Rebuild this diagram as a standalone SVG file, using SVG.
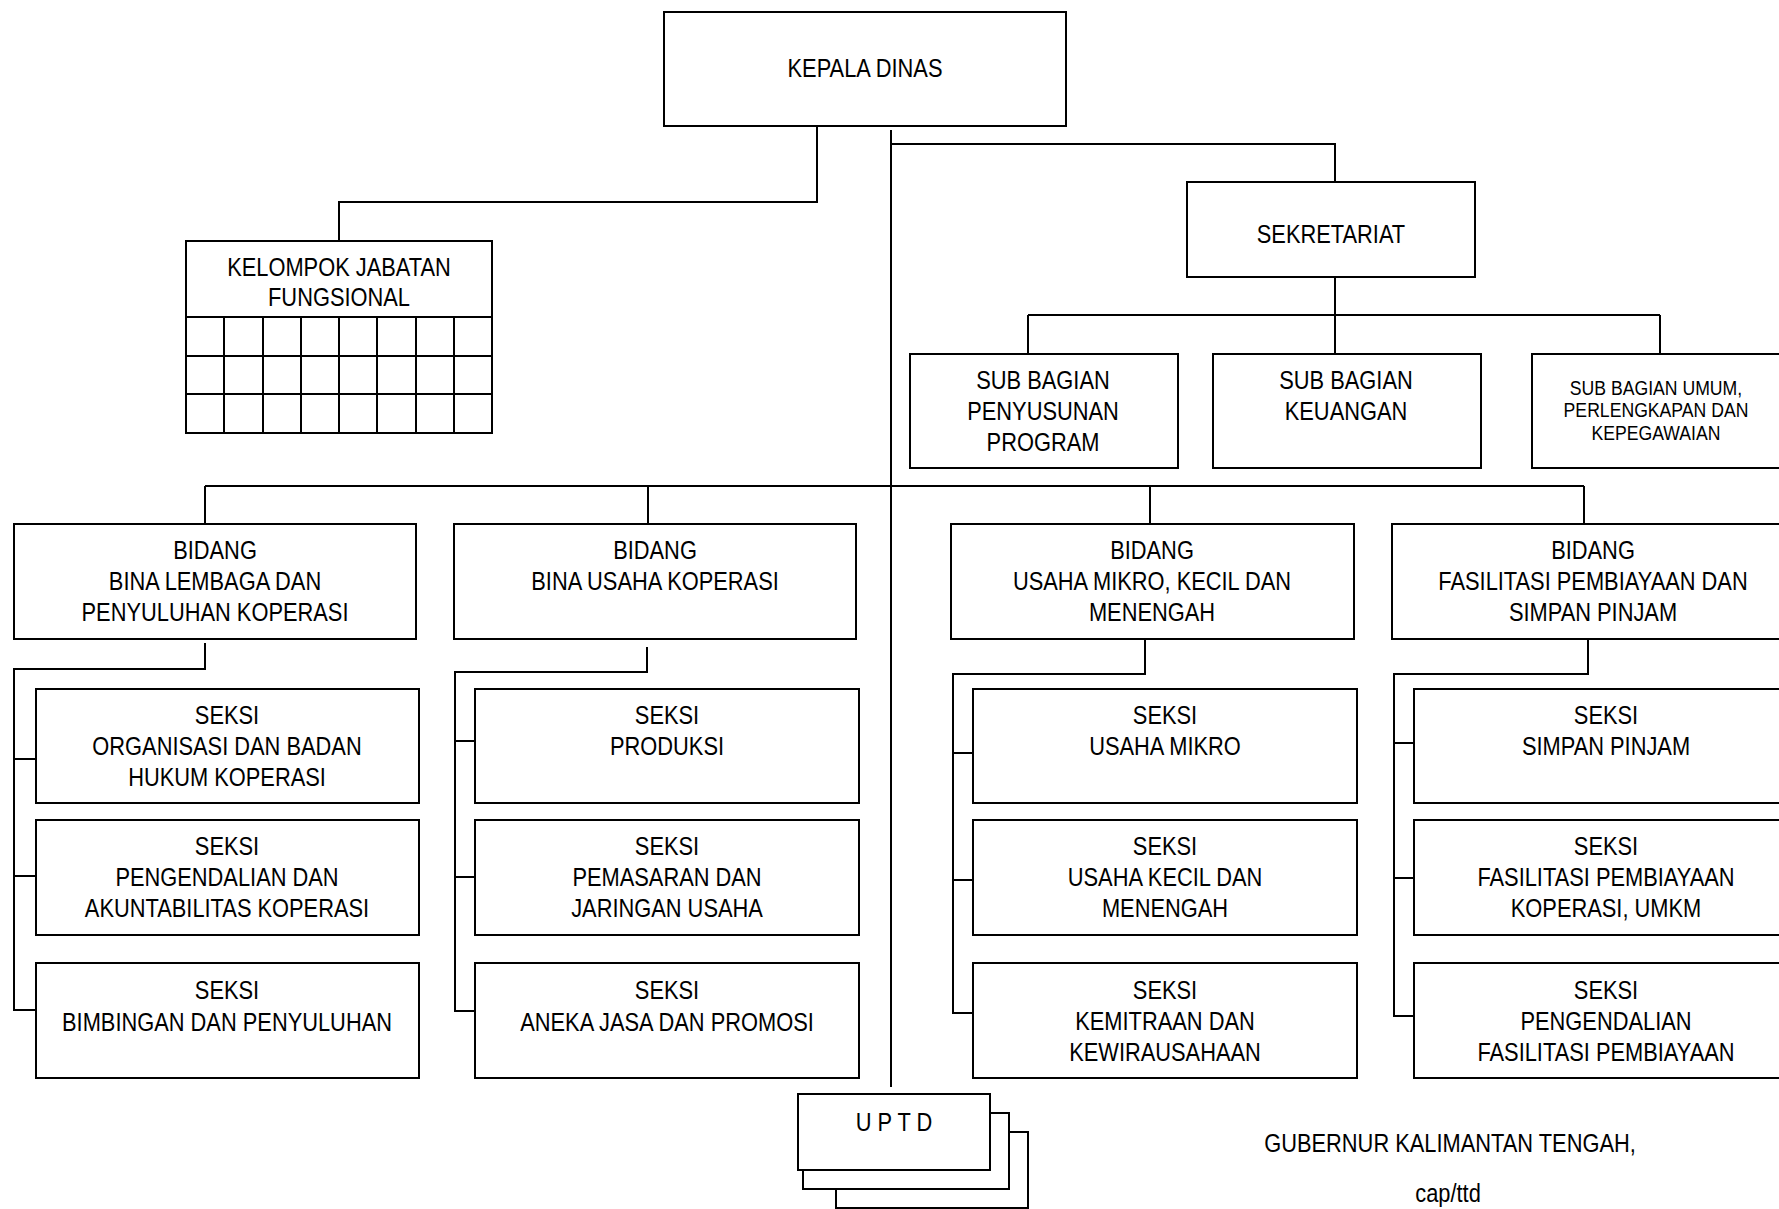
<svg xmlns="http://www.w3.org/2000/svg" width="1779" height="1209" viewBox="0 0 1779 1209">
<style>
.box{fill:#fff;stroke:#000;stroke-width:2}
.ln{fill:none;stroke:#000;stroke-width:2}
text{font-family:"Liberation Sans Narrow","Arial Narrow","Liberation Sans",Arial,sans-serif;font-size:26px;text-anchor:middle;fill:#000}
.sm{font-size:21px}
</style>
<rect width="1779" height="1209" fill="#fff"/>
<g id="connectors">
<path class="ln" d="M817,126 V202 H339 V241"/>
<path class="ln" d="M891,130 V1087"/>
<path class="ln" d="M891,144 H1335 V182"/>
<path class="ln" d="M1335,277 V354 M1028,315 H1660 M1028,315 V354 M1660,315 V354"/>
<path class="ln" d="M205,486 H1584 M205,486 V524 M648,486 V524 M1150,486 V524 M1584,486 V524"/>
<path class="ln" d="M205,643 V669 H14 V1010 H36 M14,759 H36 M14,876 H36"/>
<path class="ln" d="M647,647 V672 H455 V1011 H475 M455,741 H475 M455,877 H475"/>
<path class="ln" d="M1145,636 V674 H953 V1013 H973 M953,753 H973 M953,880 H973"/>
<path class="ln" d="M1588,636 V674 H1394 V1016 H1414 M1394,743 H1414 M1394,878 H1414"/>
</g>
<g id="kepala-dinas">
<rect class="box" x="664" y="12" width="402" height="114"/>
<text transform="translate(865,77) scale(0.84,1)">KEPALA DINAS</text>
</g>
<g id="kelompok-jabatan-fungsional">
<rect class="box" x="186" y="241" width="306" height="192"/>
<path class="ln" d="M186,317 H492 M186,356 H492 M186,394 H492 M224,317 V433 M263,317 V433 M301,317 V433 M339,317 V433 M377,317 V433 M416,317 V433 M454,317 V433"/>
<text transform="translate(339,276) scale(0.84,1)">KELOMPOK JABATAN</text>
<text transform="translate(339,306) scale(0.84,1)">FUNGSIONAL</text>
</g>
<g id="sekretariat">
<rect class="box" x="1187" y="182" width="288" height="95"/>
<text transform="translate(1331,243) scale(0.84,1)">SEKRETARIAT</text>
</g>
<g id="sub-bagian-penyusunan-program">
<rect class="box" x="910" y="354" width="268" height="114"/>
<text transform="translate(1043,389) scale(0.84,1)">SUB BAGIAN</text>
<text transform="translate(1043,420) scale(0.84,1)">PENYUSUNAN</text>
<text transform="translate(1043,451) scale(0.84,1)">PROGRAM</text>
</g>
<g id="sub-bagian-keuangan">
<rect class="box" x="1213" y="354" width="268" height="114"/>
<text transform="translate(1346,389) scale(0.84,1)">SUB BAGIAN</text>
<text transform="translate(1346,420) scale(0.84,1)">KEUANGAN</text>
</g>
<g id="sub-bagian-umum">
<rect class="box" x="1532" y="354" width="262" height="114"/>
<text class="sm" transform="translate(1656,395) scale(0.84,1)">SUB BAGIAN UMUM,</text>
<text class="sm" transform="translate(1656,417) scale(0.84,1)">PERLENGKAPAN DAN</text>
<text class="sm" transform="translate(1656,440) scale(0.84,1)">KEPEGAWAIAN</text>
</g>
<g id="bidang-bina-lembaga">
<rect class="box" x="14" y="524" width="402" height="115"/>
<text transform="translate(215,559) scale(0.84,1)">BIDANG</text>
<text transform="translate(215,590) scale(0.84,1)">BINA LEMBAGA DAN</text>
<text transform="translate(215,621) scale(0.84,1)">PENYULUHAN KOPERASI</text>
</g>
<g id="bidang-bina-usaha">
<rect class="box" x="454" y="524" width="402" height="115"/>
<text transform="translate(655,559) scale(0.84,1)">BIDANG</text>
<text transform="translate(655,590) scale(0.84,1)">BINA USAHA KOPERASI</text>
</g>
<g id="bidang-umkm">
<rect class="box" x="951" y="524" width="403" height="115"/>
<text transform="translate(1152,559) scale(0.84,1)">BIDANG</text>
<text transform="translate(1152,590) scale(0.84,1)">USAHA MIKRO, KECIL DAN</text>
<text transform="translate(1152,621) scale(0.84,1)">MENENGAH</text>
</g>
<g id="bidang-fasilitasi">
<rect class="box" x="1392" y="524" width="402" height="115"/>
<text transform="translate(1593,559) scale(0.84,1)">BIDANG</text>
<text transform="translate(1593,590) scale(0.84,1)">FASILITASI PEMBIAYAAN DAN</text>
<text transform="translate(1593,621) scale(0.84,1)">SIMPAN PINJAM</text>
</g>
<g id="seksi-organisasi">
<rect class="box" x="36" y="689" width="383" height="114"/>
<text transform="translate(227,724) scale(0.84,1)">SEKSI</text>
<text transform="translate(227,755) scale(0.84,1)">ORGANISASI DAN BADAN</text>
<text transform="translate(227,786) scale(0.84,1)">HUKUM KOPERASI</text>
</g>
<g id="seksi-pengendalian-akuntabilitas">
<rect class="box" x="36" y="820" width="383" height="115"/>
<text transform="translate(227,855) scale(0.84,1)">SEKSI</text>
<text transform="translate(227,886) scale(0.84,1)">PENGENDALIAN DAN</text>
<text transform="translate(227,917) scale(0.84,1)">AKUNTABILITAS KOPERASI</text>
</g>
<g id="seksi-bimbingan">
<rect class="box" x="36" y="963" width="383" height="115"/>
<text transform="translate(227,999) scale(0.84,1)">SEKSI</text>
<text transform="translate(227,1031) scale(0.84,1)">BIMBINGAN DAN PENYULUHAN</text>
</g>
<g id="seksi-produksi">
<rect class="box" x="475" y="689" width="384" height="114"/>
<text transform="translate(667,724) scale(0.84,1)">SEKSI</text>
<text transform="translate(667,755) scale(0.84,1)">PRODUKSI</text>
</g>
<g id="seksi-pemasaran">
<rect class="box" x="475" y="820" width="384" height="115"/>
<text transform="translate(667,855) scale(0.84,1)">SEKSI</text>
<text transform="translate(667,886) scale(0.84,1)">PEMASARAN DAN</text>
<text transform="translate(667,917) scale(0.84,1)">JARINGAN USAHA</text>
</g>
<g id="seksi-aneka-jasa">
<rect class="box" x="475" y="963" width="384" height="115"/>
<text transform="translate(667,999) scale(0.84,1)">SEKSI</text>
<text transform="translate(667,1031) scale(0.84,1)">ANEKA JASA DAN PROMOSI</text>
</g>
<g id="seksi-usaha-mikro">
<rect class="box" x="973" y="689" width="384" height="114"/>
<text transform="translate(1165,724) scale(0.84,1)">SEKSI</text>
<text transform="translate(1165,755) scale(0.84,1)">USAHA MIKRO</text>
</g>
<g id="seksi-usaha-kecil">
<rect class="box" x="973" y="820" width="384" height="115"/>
<text transform="translate(1165,855) scale(0.84,1)">SEKSI</text>
<text transform="translate(1165,886) scale(0.84,1)">USAHA KECIL DAN</text>
<text transform="translate(1165,917) scale(0.84,1)">MENENGAH</text>
</g>
<g id="seksi-kemitraan">
<rect class="box" x="973" y="963" width="384" height="115"/>
<text transform="translate(1165,999) scale(0.84,1)">SEKSI</text>
<text transform="translate(1165,1030) scale(0.84,1)">KEMITRAAN DAN</text>
<text transform="translate(1165,1061) scale(0.84,1)">KEWIRAUSAHAAN</text>
</g>
<g id="seksi-simpan-pinjam">
<rect class="box" x="1414" y="689" width="384" height="114"/>
<text transform="translate(1606,724) scale(0.84,1)">SEKSI</text>
<text transform="translate(1606,755) scale(0.84,1)">SIMPAN PINJAM</text>
</g>
<g id="seksi-fasilitasi-pembiayaan">
<rect class="box" x="1414" y="820" width="384" height="115"/>
<text transform="translate(1606,855) scale(0.84,1)">SEKSI</text>
<text transform="translate(1606,886) scale(0.84,1)">FASILITASI PEMBIAYAAN</text>
<text transform="translate(1606,917) scale(0.84,1)">KOPERASI, UMKM</text>
</g>
<g id="seksi-pengendalian-fasilitasi">
<rect class="box" x="1414" y="963" width="384" height="115"/>
<text transform="translate(1606,999) scale(0.84,1)">SEKSI</text>
<text transform="translate(1606,1030) scale(0.84,1)">PENGENDALIAN</text>
<text transform="translate(1606,1061) scale(0.84,1)">FASILITASI PEMBIAYAAN</text>
</g>
<g id="uptd">
<path class="ln" d="M836,1189 V1208 H1028 V1132 H1009"/>
<path class="ln" d="M803,1170 V1189 H1009 V1113 H990"/>
<rect class="box" x="798" y="1094" width="192" height="76"/>
<text transform="translate(894,1131) scale(0.84,1)">U P T D</text>
</g>
<g id="signature">
<text transform="translate(1450,1152) scale(0.84,1)">GUBERNUR KALIMANTAN TENGAH,</text>
<text transform="translate(1448,1202) scale(0.84,1)">cap/ttd</text>
</g>
</svg>
